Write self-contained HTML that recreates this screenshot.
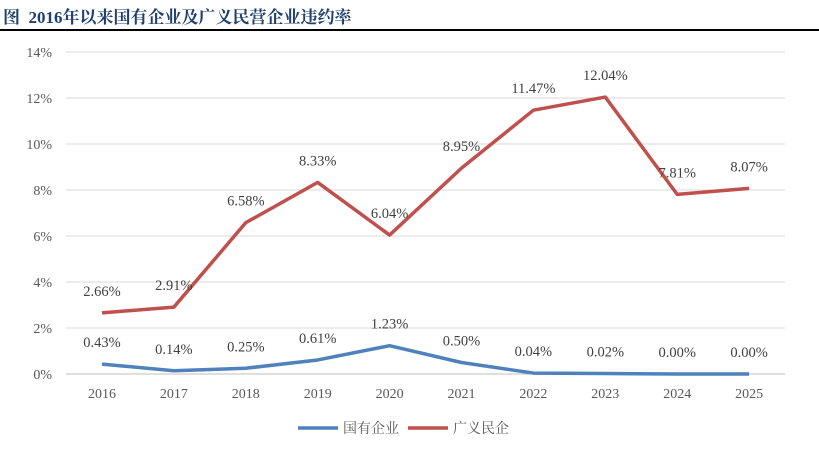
<!DOCTYPE html>
<html><head><meta charset="utf-8"><style>
body{margin:0;width:819px;height:462px;background:#fff;overflow:hidden}
</style></head><body>
<div style="position:absolute;left:3px;top:3px;font:bold 17px 'Liberation Serif','Noto Serif CJK SC',serif;color:#1f3f6e">图&nbsp; 2016年以来国有企业及广义民营企业违约率</div>
<div style="position:absolute;left:0;top:29px;width:819px;height:1.5px;background:#000"></div>
<svg id="c" width="819" height="462" style="position:absolute;left:0;top:0" font-family="'Liberation Serif','Noto Serif CJK SC',serif"></svg>
<script>
const years=['2016','2017','2018','2019','2020','2021','2022','2023','2024','2025'];
const soe=[0.43,0.14,0.25,0.61,1.23,0.50,0.04,0.02,0.00,0.00];
const priv=[2.66,2.91,6.58,8.33,6.04,8.95,11.47,12.04,7.81,8.07];
const yTicks=[0,2,4,6,8,10,12,14];
const svg=document.getElementById('c');const NS='http://www.w3.org/2000/svg';
const x=i=>102+i*71.9, y=v=>374-v*23;
function el(t,a,txt){const e=document.createElementNS(NS,t);for(const k in a)e.setAttribute(k,a[k]);if(txt!==undefined)e.textContent=txt;svg.appendChild(e);return e;}
yTicks.forEach(t=>{
 const g=el('line',{x1:66,x2:785,y1:y(t),y2:y(t),stroke:t?'#d9d9d9':'#bfbfbf','stroke-width':1});
 
 const l=el('text',{x:52,y:y(t)+5,'text-anchor':'end','font-size':14,fill:'#595959'},t+'%');
 
});
years.forEach((yr,i)=>{const l=el('text',{x:x(i),y:398,'text-anchor':'middle','font-size':14,fill:'#595959'},yr);
 });
function series(d,col,name,off){
 const p=el('polyline',{points:d.map((v,i)=>x(i)+','+y(v)).join(' '),fill:'none',stroke:col,'stroke-width':3.5,'stroke-linejoin':'round'});
 
 d.forEach((v,i)=>{const t=el('text',{x:x(i),y:y(v)-off,'text-anchor':'middle','font-size':14.5,fill:'#404040'},v.toFixed(2)+'%');
 });
}
series(priv,'#c0504d','private',17);
series(soe,'#4f81bd','soe',17);
[['#4f81bd','国有企业',298],['#c0504d','广义民企',408]].forEach(([c,n,lx],k)=>{
 const l=el('line',{x1:lx,x2:lx+40,y1:428,y2:428,stroke:c,'stroke-width':3.5});
 
 const t=el('text',{x:lx+45,y:433,'font-size':14,fill:'#595959'},n);
 
});
</script>
</body></html>
